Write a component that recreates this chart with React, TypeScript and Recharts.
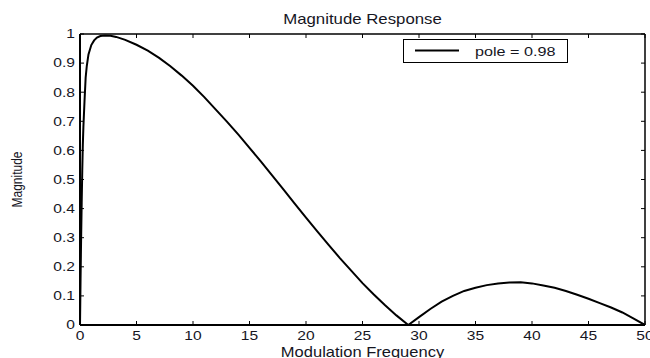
import React from 'react';
import { LineChart, Line, XAxis, YAxis, Legend } from 'recharts';

const FONT = '"Liberation Sans", Arial, Helvetica, sans-serif';
const INK = '#16161f';

// Modulation frequency (Hz) and normalised magnitude of the filter response
const modulationFrequency = [
  0, 0.05, 0.1, 0.15, 0.2, 0.25, 0.3, 0.4, 0.5, 0.6, 0.75, 1, 1.25, 1.5, 1.8, 2.2, 2.7, 3.2, 4, 5,
  6, 7, 8, 9, 10, 11, 12, 13, 14, 15, 16, 17, 18, 19, 20, 21, 22, 23, 24, 25, 26, 27, 28, 29.05,
  30, 31, 32, 33, 34, 35, 36, 37, 38, 39, 40, 41, 42, 43, 44, 45, 46, 47, 48, 49, 50,
];
const magnitude = [
  0, 0.16, 0.3, 0.42, 0.53, 0.62, 0.68, 0.77, 0.85, 0.89, 0.93, 0.962, 0.978, 0.988, 0.993, 0.995, 0.994, 0.99, 0.98, 0.963,
  0.943, 0.918, 0.889, 0.857, 0.822, 0.783, 0.741, 0.699, 0.655, 0.609, 0.562, 0.514, 0.466, 0.417, 0.369, 0.322, 0.275, 0.23, 0.187, 0.144, 0.105, 0.068, 0.033, 0,
  0.027, 0.055, 0.08, 0.1, 0.117, 0.128, 0.137, 0.143, 0.146, 0.147, 0.143, 0.136, 0.128, 0.117, 0.104, 0.09, 0.075, 0.06, 0.043, 0.022, 0,
];

const xTicks = [0, 5, 10, 15, 20, 25, 30, 35, 40, 45, 50];
const yTicks = [0, 0.1, 0.2, 0.3, 0.4, 0.5, 0.6, 0.7, 0.8, 0.9, 1];
const yTickLabels = ['0', '0.1', '0.2', '0.3', '0.4', '0.5', '0.6', '0.7', '0.8', '0.9', '1'];

const seriesName = 'pole = 0.98';
const chartTitle = 'Magnitude Response';
const xTitle = 'Modulation Frequency';
const yTitle = 'Magnitude';

const data = modulationFrequency.map((f, i) => ({ f, m: magnitude[i] }));

const TICK_LEN = 4;

function BottomTick(props: any) {
  const { x, y, payload } = props;
  return (
    <g>
      <line x1={x} y1={y} x2={x} y2={y - TICK_LEN} stroke="#000" strokeWidth={1} />
      <text
        transform={`translate(${x},${y + 15}) scale(1.3,1)`}
        textAnchor="middle"
        fontSize={12}
        fontFamily={FONT}
        fill={INK}
      >
        {payload.value}
      </text>
    </g>
  );
}

function TopTick(props: any) {
  const { x, y } = props;
  return <line x1={x} y1={y} x2={x} y2={y + TICK_LEN} stroke="#000" strokeWidth={1} />;
}

function LeftTick(props: any) {
  const { x, y, payload } = props;
  const idx = yTicks.indexOf(payload.value);
  const label = idx >= 0 ? yTickLabels[idx] : String(payload.value);
  return (
    <g>
      <line x1={x} y1={y} x2={x + TICK_LEN} y2={y} stroke="#000" strokeWidth={1} />
      <text
        transform={`translate(${x - 5},${y + 4.3}) scale(1.3,1)`}
        textAnchor="end"
        fontSize={12}
        fontFamily={FONT}
        fill={INK}
      >
        {label}
      </text>
    </g>
  );
}

function RightTick(props: any) {
  const { x, y } = props;
  return <line x1={x} y1={y} x2={x - TICK_LEN} y2={y} stroke="#000" strokeWidth={1} />;
}

function TitleLabel(props: any) {
  const vb = props.viewBox || {};
  const cx = vb.x + vb.width / 2;
  return (
    <text
      transform={`translate(${cx},24) scale(1.2,1)`}
      textAnchor="middle"
      fontSize={14}
      fontFamily={FONT}
      fill={INK}
    >
      {chartTitle}
    </text>
  );
}

function XTitleLabel(props: any) {
  const vb = props.viewBox || {};
  const cx = vb.x + vb.width / 2;
  return (
    <text
      transform={`translate(${cx},${vb.y + 32}) scale(1.18,1)`}
      textAnchor="middle"
      fontSize={14}
      fontFamily={FONT}
      fill={INK}
    >
      {xTitle}
    </text>
  );
}

function YTitleLabel(props: any) {
  const vb = props.viewBox || {};
  const cy = vb.y + vb.height / 2;
  return (
    <text
      transform={`translate(22,${cy}) scale(1.2,1) rotate(-90)`}
      textAnchor="middle"
      fontSize={12}
      fontFamily={FONT}
      fill={INK}
    >
      {yTitle}
    </text>
  );
}

function LegendBox(props: any) {
  const entry = (props.payload && props.payload[0]) || { value: seriesName, color: '#000' };
  return (
    <div
      style={{
        width: 165,
        height: 24,
        border: '1px solid #000',
        background: '#fff',
        boxSizing: 'border-box',
      }}
    >
      <svg width={163} height={22} style={{ display: 'block' }}>
        <line x1={11} y1={10.5} x2={55} y2={10.5} stroke={entry.color || '#000'} strokeWidth={2} />
        <text
          transform="translate(71,15.5) scale(1.35,1)"
          fontSize={12}
          fontFamily={FONT}
          fill={INK}
        >
          {entry.value}
        </text>
      </svg>
    </div>
  );
}

export default function App() {
  return (
    <div style={{ position: 'absolute', left: 0, top: 0, width: 650, height: 358, background: '#fff' }}>
      <LineChart width={650} height={358} data={data} margin={{ top: 0, right: 0, bottom: 0, left: 0 }}>
        <XAxis
          xAxisId="b"
          dataKey="f"
          type="number"
          domain={[0, 50]}
          ticks={xTicks}
          interval={0}
          allowDataOverflow
          height={33}
          axisLine={{ stroke: '#000', strokeWidth: 2 }}
          tickLine={false}
          tickSize={0}
          tickMargin={0}
          tick={(p: any) => <BottomTick {...p} />}
          label={{ content: (p: any) => <XTitleLabel {...p} /> }}
        />
        <XAxis
          xAxisId="t"
          orientation="top"
          dataKey="f"
          type="number"
          domain={[0, 50]}
          ticks={xTicks}
          interval={0}
          allowDataOverflow
          height={34}
          axisLine={{ stroke: '#000', strokeWidth: 1.5 }}
          tickLine={false}
          tickSize={0}
          tickMargin={0}
          tick={(p: any) => <TopTick {...p} />}
          label={{ content: (p: any) => <TitleLabel {...p} /> }}
        />
        <YAxis
          yAxisId="l"
          dataKey="m"
          type="number"
          domain={[0, 1]}
          ticks={yTicks}
          interval={0}
          allowDataOverflow
          width={80}
          axisLine={{ stroke: '#000', strokeWidth: 2 }}
          tickLine={false}
          tickSize={0}
          tickMargin={0}
          tick={(p: any) => <LeftTick {...p} />}
          label={{ content: (p: any) => <YTitleLabel {...p} /> }}
        />
        <YAxis
          yAxisId="r"
          orientation="right"
          dataKey="m"
          type="number"
          domain={[0, 1]}
          ticks={yTicks}
          interval={0}
          allowDataOverflow
          width={5}
          axisLine={{ stroke: '#000', strokeWidth: 1.5 }}
          tickLine={false}
          tickSize={0}
          tickMargin={0}
          tick={(p: any) => <RightTick {...p} />}
        />
        <Legend
          layout="horizontal"
          align="center"
          verticalAlign="middle"
          wrapperStyle={{ left: 403, top: 39, width: 165, height: 24 }}
          content={(p: any) => <LegendBox {...p} />}
        />
        <Line
          xAxisId="b"
          yAxisId="l"
          type="linear"
          dataKey="m"
          name={seriesName}
          stroke="#000"
          strokeWidth={2}
          dot={false}
          activeDot={false}
          isAnimationActive={false}
        />
      </LineChart>
    </div>
  );
}
